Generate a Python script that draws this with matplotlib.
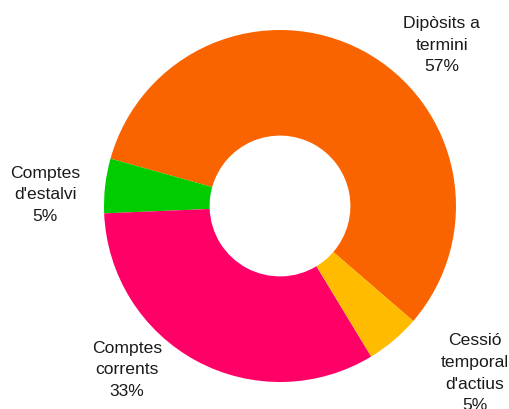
import matplotlib.pyplot as plt

# deposit structure shares (percent)
categories = ["Dipòsits a\ntermini", "Comptes\nd'estalvi", "Comptes\ncorrents", "Cessió\ntemporal\nd'actius"]
shares = [57, 5, 33, 5]
colors = ["#FA6400", "#00CC00", "#FF0066", "#FFBB00"]

# label anchor points in pie units (radius = 1)
label_pos = [(0.92, 0.92), (-1.335, 0.07), (-0.87, -0.925), (1.105, -0.945)]

plt.rcParams['font.family'] = ['Liberation Sans', 'DejaVu Sans']

fig = plt.figure(figsize=(5.1, 4.1), dpi=100)
cx, cy, r = 280, 207, 176
ax = fig.add_axes([(cx - r) / 510, (410 - cy - r) / 410, 2 * r / 510, 2 * r / 410])

ax.pie(shares, colors=colors, startangle=-40.8, counterclock=True,
       radius=1, wedgeprops=dict(width=0.6, linewidth=0))
ax.set_xlim(-1, 1)
ax.set_ylim(-1, 1)
ax.axis('off')

for name, val, (x, y) in zip(categories, shares, label_pos):
    ax.text(x, y, "{0}\n{1}%".format(name, val), ha='center', va='center',
            fontsize=12.6, linespacing=1.55, color='#1a1a1a', clip_on=False)

fig.savefig("out.png", dpi=100)
